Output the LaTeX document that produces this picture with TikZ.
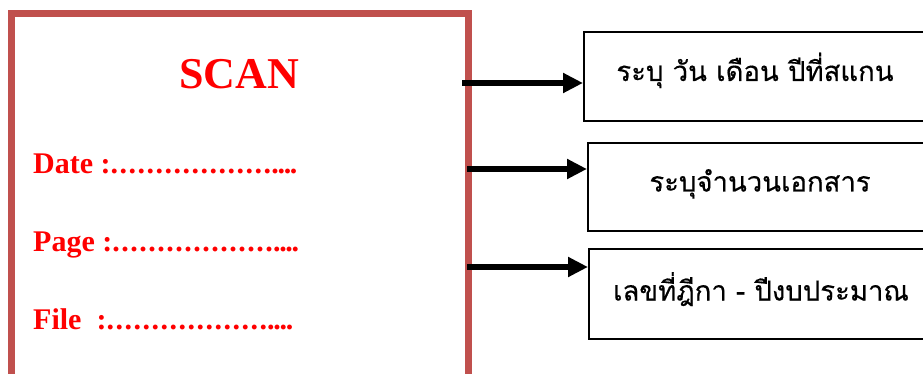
\documentclass[tikz,border=0pt]{standalone}
\usepackage{fontspec}
\usetikzlibrary{arrows.meta}
\setmainfont{Liberation Serif}
\newfontfamily\thaifont[Script=Thai,FakeBold=0.4]{Loma}
\definecolor{framered}{RGB}{192,80,77}
\definecolor{formred}{RGB}{255,0,0}
% a run of evenly spaced full stops used as a fill-in line
\newcommand\dotrun[2]{\foreach \i in {1,...,#1}{.\kern#2}}
\newcommand\dottail{\kern-1.3pt.\kern-1.3pt.\kern-1.3pt.\kern-1.3pt.}
\tikzset{
  formtitle/.style={text=formred,font=\fontsize{44}{50}\selectfont\bfseries,inner sep=0pt},
  formfield/.style={text=formred,font=\fontsize{30}{36}\selectfont\bfseries,inner sep=0pt,anchor=base west},
  infobox/.style={draw=black,line width=2pt,anchor=north west,inner sep=0pt,
    text height=20pt,text depth=11pt,
    font=\thaifont\fontsize{27.5}{32}\selectfont},
  pointer/.style={line width=6pt,-{Triangle[length=20pt,width=19pt]}},
}
\begin{document}
\begin{tikzpicture}[x=1pt,y=-1pt]
  \clip (0,0) rectangle (923,374);
  \fill[white] (0,0) rectangle (923,374);
  % the scan stamp
  \draw[framered,line width=7pt] (11.5,420) -- (11.5,13.5) -- (468.5,13.5) -- (468.5,420);
  \node[formtitle,anchor=base] (scan) at (239,89) {SCAN};
  \node[formfield] (date) at (33,174) {Date :\dotrun{18}{1.5pt}\dottail};
  \node[formfield] (page) at (33,251) {Page :\dotrun{18}{1.5pt}\dottail};
  \node[formfield] (file) at (33,329) {File\ \ :\dotrun{18}{1.5pt}\dottail};
  % explanation boxes
  \node[infobox,minimum width=342pt,minimum height=89pt] (b1) at (583,31) {ระบุ วัน เดือน ปีที่สแกน};
  \node[infobox,minimum width=344pt,minimum height=88pt] (b2) at (587,142) {ระบุจำนวนเอกสาร};
  \node[infobox,minimum width=344pt,minimum height=90pt,text depth=7pt] (b3) at (588,248) {เลขที่ฎีกา - ปีงบประมาณ};
  % arrows from the stamp to the boxes
  \coordinate (s1) at (462,83);
  \coordinate (s2) at (467,169);
  \coordinate (s3) at (467,267);
  \draw[pointer] (s1) -- (s1 -| b1.west);
  \draw[pointer] (s2) -- (s2 -| b2.west);
  \draw[pointer] (s3) -- (s3 -| b3.west);
\end{tikzpicture}
\end{document}
